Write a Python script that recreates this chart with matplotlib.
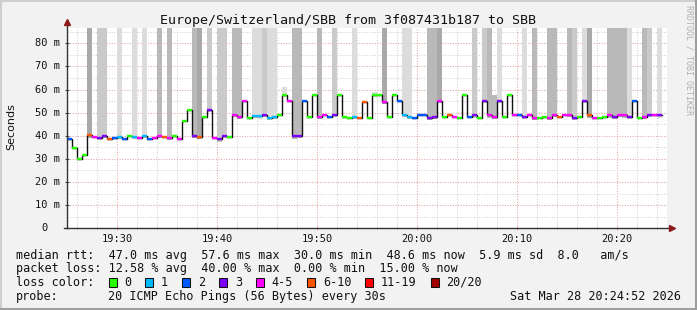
import numpy as np
import pandas as pd
import matplotlib
matplotlib.use('Agg')
import matplotlib.pyplot as plt
import matplotlib.dates as mdates
from matplotlib.patches import Rectangle
from matplotlib.lines import Line2D

W, H = 697, 310

# one sample every 30 s, 19:25:00 .. 20:24:30
start_time = '2026-03-28 19:25:00'

median_ms = [38.8, 34.9, 30.0, 31.9, 40.2, 39.6, 39.1, 40.0, 38.7, 39.1,
             39.6, 38.5, 40.0, 39.4, 39.0, 40.0, 38.4, 39.1, 40.0, 39.5,
             39.2, 40.0, 38.6, 46.2, 51.3, 40.0, 39.5, 48.2, 51.2, 39.2,
             38.4, 40.0, 39.5, 49.2, 48.3, 55.1, 47.9, 48.7, 48.4, 49.2,
             47.9, 48.3, 48.8, 57.7, 55.1, 39.7, 40.0, 55.1, 48.3, 57.7,
             48.3, 49.2, 48.3, 49.2, 57.7, 48.3, 47.9, 48.3, 47.9, 54.8,
             47.9, 57.7, 57.7, 54.8, 48.3, 57.7, 55.1, 49.2, 48.3, 47.9,
             49.2, 48.8, 47.9, 48.3, 55.1, 48.3, 48.8, 48.3, 47.9, 57.7,
             48.3, 48.8, 47.9, 55.1, 48.8, 48.3, 55.1, 48.3, 57.7, 48.8,
             49.2, 48.3, 48.8, 47.9, 47.9, 48.3, 47.9, 49.2, 48.3, 48.8,
             49.2, 47.9, 48.3, 55.1, 48.8, 47.9, 47.9, 48.3, 48.8, 48.3,
             49.2, 48.8, 48.3, 55.1, 47.9, 48.3, 49.2, 48.8, 48.8]

# lost pings out of 20
loss_pings = [2, 0, 0, 0, 7, 4, 3, 3, 7, 2,
              1, 2, 0, 1, 4, 1, 2, 4, 5, 7,
              4, 0, 4, 0, 0, 3, 6, 0, 3, 4,
              3, 3, 0, 4, 5, 4, 0, 1, 1, 3,
              1, 1, 0, 0, 4, 3, 3, 2, 0, 0,
              5, 4, 2, 3, 0, 0, 0, 1, 6, 8,
              0, 0, 0, 4, 0, 0, 2, 1, 1, 2,
              2, 2, 3, 3, 5, 0, 7, 4, 0, 0,
              2, 3, 0, 3, 4, 5, 3, 0, 0, 4,
              2, 3, 4, 5, 0, 0, 4, 5, 6, 4,
              5, 3, 0, 3, 8, 4, 0, 0, 5, 3,
              4, 5, 3, 2, 0, 4, 3, 5, 3]

# smoke: highest ping of each round (ms), 0 = no smoke drawn
smoke_top = [0, 0, 0, 0, 95, 0, 95, 95, 0, 0,
             95, 0, 0, 95, 0, 95, 0, 0, 95, 0,
             95, 0, 0, 0, 0, 95, 95, 0, 95, 0,
             95, 95, 0, 95, 95, 0, 0, 95, 95, 95,
             95, 95, 0, 61.0, 0, 95, 95, 0, 0, 0,
             95, 0, 0, 95, 0, 0, 0, 95, 0, 0,
             0, 59.0, 0, 95, 0, 0, 0, 95, 95, 0,
             0, 0, 95, 95, 95, 0, 0, 0, 0, 0,
             0, 95, 0, 95, 95, 57.7, 95, 0, 0, 0,
             0, 95, 0, 95, 0, 0, 95, 95, 0, 0,
             95, 95, 0, 95, 95, 0, 0, 0, 95, 95,
             95, 95, 95, 0, 0, 95, 95, 0, 95]

# smoke density level 1 (light) .. 4 (dark)
smoke_level = [0, 0, 0, 0, 4, 0, 2, 2, 0, 0,
               1, 0, 0, 1, 0, 1, 0, 0, 3, 0,
               3, 0, 0, 0, 0, 3, 4, 0, 2, 0,
               2, 2, 0, 3, 3, 0, 0, 1, 1, 2,
               1, 1, 0, 1, 0, 3, 3, 0, 0, 0,
               3, 0, 0, 2, 0, 0, 0, 1, 0, 0,
               0, 1, 0, 4, 0, 0, 0, 1, 1, 0,
               0, 0, 3, 3, 4, 0, 0, 0, 0, 0,
               0, 2, 0, 2, 3, 3, 1, 0, 0, 0,
               0, 1, 0, 3, 0, 0, 3, 3, 0, 0,
               3, 2, 0, 1, 4, 0, 0, 0, 3, 3,
               3, 3, 1, 0, 0, 3, 2, 0, 1]

loss_labels = ['0', '1', '2', '3', '4-5', '6-10', '11-19', '20/20']
loss_colors = ['#26ff00', '#00b8ff', '#0059ff', '#7e00ff', '#ff00ff',
               '#ff5500', '#ff0000', '#a10000']
smoke_grays = ['#dcdcdc', '#cacaca', '#b9b9b9', '#a9a9a9']

y_ticks = [0, 10, 20, 30, 40, 50, 60, 70, 80]
y_tick_labels = ['0', '10 m', '20 m', '30 m', '40 m', '50 m', '60 m', '70 m', '80 m']

title = 'Europe/Switzerland/SBB from 3f087431b187 to SBB'
stat_lines = ['median rtt:  47.0 ms avg  57.6 ms max  30.0 ms min  48.6 ms now  5.9 ms sd  8.0   am/s',
              'packet loss: 12.58 % avg  40.00 % max  0.00 % min  15.00 % now']
probe_text = '20 ICMP Echo Pings (56 Bytes) every 30s'
stamp_text = 'Sat Mar 28 20:24:52 2026'


def loss_color(n):
    if n <= 3:
        return loss_colors[n]
    if n <= 5:
        return loss_colors[4]
    if n <= 10:
        return loss_colors[5]
    if n <= 19:
        return loss_colors[6]
    return loss_colors[7]


def px(x, y):
    return x / W, 1 - y / H


mono = 'DejaVu Sans Mono'
fig = plt.figure(figsize=(W / 100, H / 100), dpi=100, facecolor='#f2f2f2')
ax = fig.add_axes([67 / W, (H - 228.3) / H, 600 / W, 200.3 / H])
ax.set_facecolor('white')

times = pd.date_range(start_time, periods=len(median_ms), freq='30s')
x0 = mdates.date2num(times.to_pydatetime())
step = 30 / 86400.0
med = np.array(median_ms)
top = np.array(smoke_top)
lvl = np.array(smoke_level)

# smoke
for k in range(1, 5):
    m = (lvl == k) & (top > 0)
    ax.bar(x0[m], top[m] - (med[m] - 1.0), bottom=med[m] - 1.0, width=step,
           align='edge', color=smoke_grays[k - 1], linewidth=0, zorder=1)

# median: black step + loss coloured segments
xs = np.append(x0, x0[-1] + step)
ys = np.append(med, med[-1])
ax.step(xs, ys, where='post', color='#111111', lw=1.0, zorder=3)
ax.hlines(med, x0, x0 + step, colors=[loss_color(n) for n in loss_pings],
          lw=1.7, zorder=4, capstyle='butt')

ax.set_xlim(mdates.date2num(pd.Timestamp(start_time)),
            mdates.date2num(pd.Timestamp(start_time) + pd.Timedelta(minutes=60)))
ax.set_ylim(0, 86.6)

ax.xaxis.set_major_locator(mdates.MinuteLocator(byminute=range(0, 60, 10)))
ax.xaxis.set_minor_locator(mdates.MinuteLocator(byminute=range(0, 60, 2)))
ax.xaxis.set_major_formatter(mdates.DateFormatter('%H:%M'))
ax.set_yticks(y_ticks)
ax.set_yticks(range(5, 86, 10), minor=True)

ax.set_axisbelow(True)
ax.grid(which='major', color='#e6a4a4', lw=0.75, linestyle=(0, (1, 1.5)))
ax.grid(which='minor', color='#d2d2d2', lw=0.75, linestyle=(0, (1, 1.5)))

for s in ax.spines.values():
    s.set_visible(False)
ax.tick_params(axis='x', which='major', length=2.5, direction='inout', color='#e6a4a4',
               labelsize=7.5, pad=2.5, labelcolor='#111111')
ax.tick_params(axis='x', which='minor', length=2.5, direction='inout', color='#d2d2d2')
ax.tick_params(axis='y', which='major', length=3, direction='inout', color='#444444',
               labelleft=False)
ax.tick_params(axis='y', which='minor', length=0)
for lab in ax.get_xticklabels():
    lab.set_fontfamily(mono)

for v, lab in zip(y_ticks, y_tick_labels):
    off = -19 if lab == '0' else -7
    ax.annotate(lab, xy=(0, v), xycoords=('axes fraction', 'data'), xytext=(off, 0),
                textcoords='offset pixels', ha='right', va='center',
                fontsize=7.5, family=mono, color='#111111')

# axes with arrows
ax.plot([0, 0], [0, 1.03], transform=ax.transAxes, color='#333333', lw=1.0, clip_on=False, zorder=5)
ax.plot([-0.005, 1.008], [0, 0], transform=ax.transAxes, color='#333333', lw=1.0, clip_on=False, zorder=5)
ax.plot([0], [1.03], transform=ax.transAxes, marker='^', ms=4, color='#8c1a1a', clip_on=False, zorder=6)
ax.plot([1.008], [0], transform=ax.transAxes, marker='>', ms=4, color='#8c1a1a', clip_on=False, zorder=6)

# texts
fig.text(*px(347.5, 24), title, ha='center', va='baseline', fontsize=9.6, family=mono, color='#111111')
fig.text(*px(11, 127), 'Seconds', rotation=90, ha='center', va='center', fontsize=8,
         family='DejaVu Sans', color='#111111')
fig.text(*px(688.5, 5), 'RRDTOOL / TOBI OETIKER', rotation=270, ha='center', va='top',
         fontsize=6, family=mono, color='#b0b0b0')

fig.text(*px(16, 258.5), stat_lines[0], ha='left', va='baseline', fontsize=8.5, family=mono, color='#111111')
fig.text(*px(16, 272.2), stat_lines[1], ha='left', va='baseline', fontsize=8.5, family=mono, color='#111111')
fig.text(*px(16, 285.9), 'loss color:', ha='left', va='baseline', fontsize=8.5, family=mono, color='#111111')
fig.text(*px(16, 299.6), 'probe:', ha='left', va='baseline', fontsize=8.5, family=mono, color='#111111')
fig.text(*px(107.5, 299.6), probe_text, ha='left', va='baseline', fontsize=8.5, family=mono, color='#111111')
fig.text(*px(681, 299.6), stamp_text, ha='right', va='baseline', fontsize=8.5, family=mono, color='#111111')

bx = 108.5
for lab, col in zip(loss_labels, loss_colors):
    fig.patches.append(Rectangle(px(bx, 286.7), 8 / W, 8.4 / H, transform=fig.transFigure,
                                 facecolor=col, edgecolor='#111111', lw=0.75))
    fig.text(*px(bx + 15.7, 285.9), lab, ha='left', va='baseline', fontsize=8.5, family=mono, color='#111111')
    bx = bx + 15.7 + len(lab) * 7.1 + 14.1

# image frame: light top/left, dark bottom/right
fig.add_artist(Line2D([0, 1], [1 - 1 / H, 1 - 1 / H], transform=fig.transFigure, color='#cfcfcf', lw=1.5))
fig.add_artist(Line2D([1 / W, 1 / W], [0, 1], transform=fig.transFigure, color='#cfcfcf', lw=1.5))
fig.add_artist(Line2D([0, 1], [1.5 / H, 1.5 / H], transform=fig.transFigure, color='#9e9e9e', lw=2.2))
fig.add_artist(Line2D([1 - 1.5 / W, 1 - 1.5 / W], [0, 1], transform=fig.transFigure, color='#9e9e9e', lw=2.2))

fig.savefig('out.png', dpi=100, facecolor=fig.get_facecolor())
